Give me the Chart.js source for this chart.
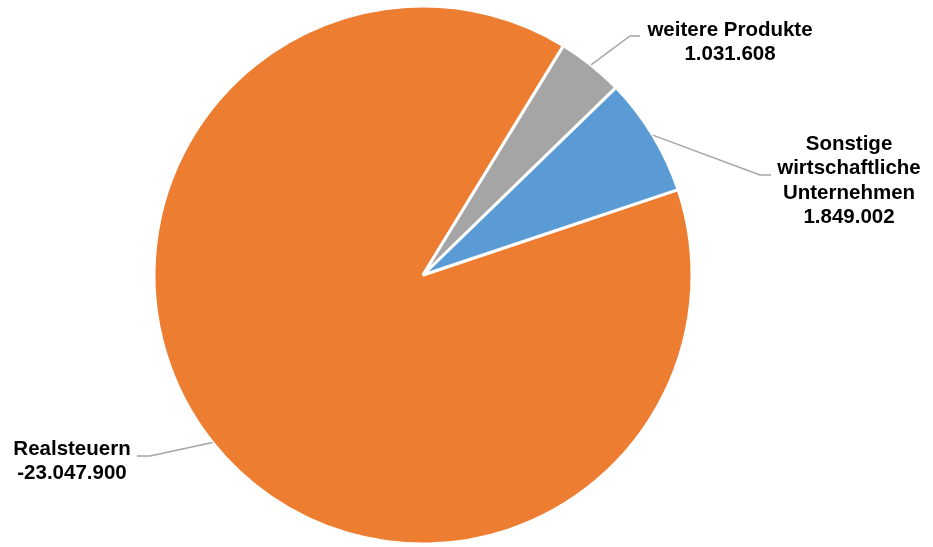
<!DOCTYPE html>
<html>
<head>
<meta charset="utf-8">
<script src="https://cdn.jsdelivr.net/npm/chart.js@4.4.1/dist/chart.umd.min.js"></script>
<style>
    html, body { margin: 0; padding: 0; background: #fff; }
    #wrap { width: 933px; height: 547px; position: relative; }
</style>
</head>
<body>
<div id="wrap"><canvas id="chartErgebnis"></canvas></div>
<script>
// Werte aus dem Kreisdiagramm
const kategorien = ['Realsteuern', 'weitere Produkte', 'Sonstige wirtschaftliche Unternehmen'];
const werte = [-23047900, 1031608, 1849002];
const labelZeilen = [
    ['Realsteuern'],
    ['weitere Produkte'],
    ['Sonstige', 'wirtschaftliche', 'Unternehmen']
];
const farben = ['#ED7D31', '#A5A5A5', '#5B9BD5'];

// Textposition und Knick der Führungslinie, relativ zum Kreismittelpunkt
const labelLayout = [
    { tx: -351, ty: 174, kx: -273, ky: 181, ex: -286 },
    { tx: 307, ty: -245, kx: 207, ky: -239, ex: 217 },
    { tx: 426, ty: -131, kx: 337, ky: -100, ex: 348 }
];

function formatZahl(v) {
    const s = Math.abs(v).toString().replace(/\B(?=(\d{3})+(?!\d))/g, '.');
    return (v < 0 ? '-' : '') + s;
}

const datenLabels = {
    id: 'datenLabels',
    afterDatasetsDraw(chart) {
        const ctx = chart.ctx;
        const meta = chart.getDatasetMeta(0);
        ctx.save();
        meta.data.forEach(function(arc, i) {
            const p = arc.getProps(['x', 'y', 'startAngle', 'endAngle', 'outerRadius'], true);
            const mid = (p.startAngle + p.endAngle) / 2;
            const ax = p.x + Math.cos(mid) * p.outerRadius;
            const ay = p.y + Math.sin(mid) * p.outerRadius;
            const l = labelLayout[i];

            ctx.strokeStyle = '#A5A5A5';
            ctx.lineWidth = 1.5;
            ctx.beginPath();
            ctx.moveTo(ax, ay);
            ctx.lineTo(p.x + l.kx, p.y + l.ky);
            ctx.lineTo(p.x + l.ex, p.y + l.ky);
            ctx.stroke();

            const zeilen = labelZeilen[i].concat([formatZahl(werte[i])]);
            ctx.fillStyle = '#000';
            ctx.font = 'bold 20.5px "Liberation Sans", Arial, sans-serif';
            ctx.textAlign = 'center';
            ctx.textBaseline = 'middle';
            zeilen.forEach(function(z, j) {
                ctx.fillText(z, p.x + l.tx, p.y + l.ty + j * 24.5);
            });
        });
        ctx.restore();
    }
};

const ctxErgebnis = document.getElementById('chartErgebnis');
if (ctxErgebnis) {
    new Chart(ctxErgebnis, {
        type: 'pie',
        data: {
            labels: kategorien,
            datasets: [{
                data: werte,
                backgroundColor: farben,
                borderColor: '#ffffff',
                borderWidth: 3
            }]
        },
        options: {
            responsive: true,
            maintainAspectRatio: false,
            animation: false,
            rotation: 71.5,
            radius: 269,
            layout: {
                padding: { left: 0, right: 87, top: 3, bottom: 0 }
            },
            plugins: {
                legend: { display: false },
                tooltip: { enabled: false }
            }
        },
        plugins: [datenLabels]
    });
}
</script>
</body>
</html>
